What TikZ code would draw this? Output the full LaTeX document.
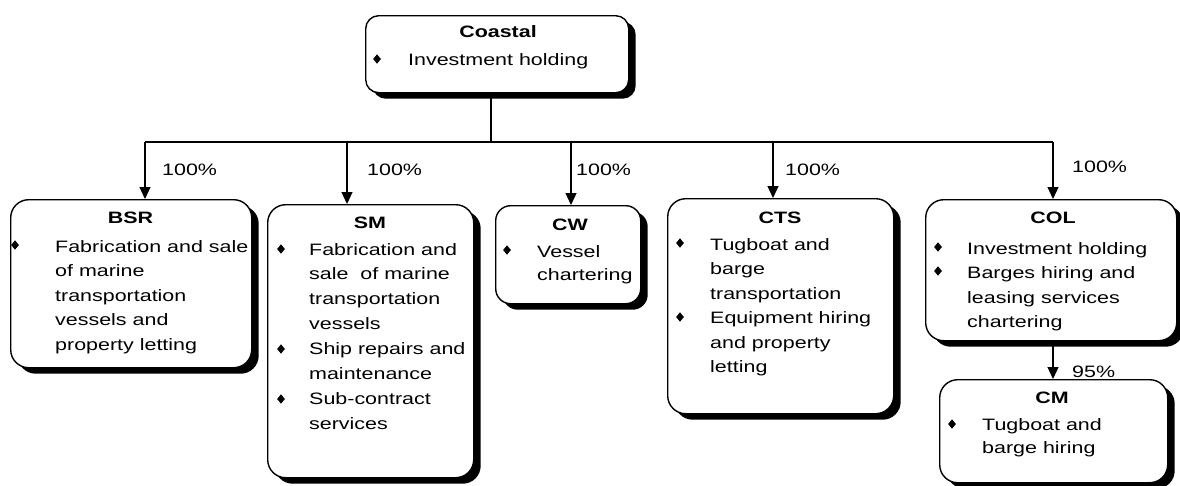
\documentclass[tikz,border=0pt]{standalone}
\usepackage{fontspec}
\setmainfont{Liberation Sans}[FakeStretch=1.3]
\usetikzlibrary{shapes.geometric,shadows,arrows.meta}
\newcommand{\mylines}[1]{\begin{tabular}[t]{@{}l@{}}#1\end{tabular}}
\tikzset{
  box/.style={draw, line width=1.4pt, fill=white, rounded corners=18pt, inner sep=0pt,
    anchor=north west,
    drop shadow={shadow xshift=7pt, shadow yshift=-6pt, fill=black, opacity=1}},
  ttl/.style={anchor=base, inner sep=0pt, font=\fontsize{16.5}{24.5}\selectfont\bfseries},
  txt/.style={anchor=base west, inner sep=0pt},
  bul/.style={diamond, fill=black, inner sep=0pt, minimum width=8pt, minimum height=9.5pt},
  pct/.style={anchor=base west, inner sep=0pt},
  conn/.style={line width=1.2pt},
  arr/.style={line width=1.2pt, -{Triangle[width=11pt,length=12pt]}}
}
\begin{document}
\begin{tikzpicture}[x=1pt, y=-1pt, font=\fontsize{16.5}{24.5}\selectfont]
\useasboundingbox (0,0) rectangle (1180,485);
% boxes
\node[box, rounded corners=13pt, minimum width=263pt, minimum height=77pt] (coastal) at (365,15) {};
\node[box, minimum width=241pt, minimum height=168pt] (bsr) at (10,199) {};
\node[box, minimum width=206pt, minimum height=273pt] (sm) at (267,204) {};
\node[box, rounded corners=15pt, minimum width=145pt, minimum height=98pt] (cw) at (495,205) {};
\node[box, minimum width=226pt, minimum height=215pt] (cts) at (667,198) {};
\node[box, minimum width=251pt, minimum height=141pt] (col) at (925,199) {};
\node[box, minimum width=228pt, minimum height=103pt] (cm) at (939,379) {};
% Coastal
\node[ttl] (coastalT) at (498,37) {Coastal};
\node[bul] (coastalB1) at (377,59) {};
\node[txt] (coastalX) at (408,65) {Investment holding};
% BSR
\node[ttl] (bsrT) at (130.5,223) {BSR};
\node[bul] (bsrB1) at (15,245) {};
\node[txt] (bsrX) at (55,252) {\mylines{Fabrication and sale\\of marine\\transportation\\vessels and\\property letting}};
% SM
\node[ttl] (smT) at (370,228) {SM};
\node[bul] (smB1) at (281,249) {};
\node[bul] (smB2) at (281,349) {};
\node[bul] (smB3) at (281,399) {};
\node[txt] (smX) at (309,255) {\renewcommand{\arraystretch}{1.02}\mylines{Fabrication and\\sale\ \ of marine\\transportation\\vessels\\Ship repairs and\\maintenance\\Sub-contract\\services}};
% CW
\node[ttl] (cwT) at (570,230) {CW};
\node[bul] (cwB1) at (507,250) {};
\node[txt] (cwX) at (537,257) {\renewcommand{\arraystretch}{0.94}\mylines{Vessel\\chartering}};
% CTS
\node[ttl] (ctsT) at (780,223) {CTS};
\node[bul] (ctsB1) at (680,243) {};
\node[bul] (ctsB2) at (680,317) {};
\node[txt] (ctsX) at (710,250) {\mylines{Tugboat and\\barge\\transportation\\Equipment hiring\\and property\\letting}};
% COL
\node[ttl] (colT) at (1053,223) {COL};
\node[bul] (colB1) at (938,247) {};
\node[bul] (colB2) at (938,271) {};
\node[txt] (colX) at (967,254) {\mylines{Investment holding\\Barges hiring and\\leasing services\\chartering}};
% CM
\node[ttl] (cmT) at (1052,403) {CM};
\node[bul] (cmB1) at (952,424) {};
\node[txt] (cmX) at (982,430) {\renewcommand{\arraystretch}{0.94}\mylines{Tugboat and\\barge hiring}};
% connectors
\coordinate (j) at (491,142);
\coordinate (aBSR) at (145,142);
\coordinate (aSM) at (347,142);
\coordinate (aCW) at (571,142);
\coordinate (aCTS) at (773,142);
\coordinate (aCOL) at (1053,142);
\draw[conn] (j |- coastal.south) -- (j);
\draw[conn] (aBSR) -- (aCOL);
\draw[arr] (aBSR) -- (aBSR |- bsr.north);
\draw[arr] (aSM) -- (aSM |- sm.north);
\draw[arr] (aCW) -- (aCW |- cw.north);
\draw[arr] (aCTS) -- (aCTS |- cts.north);
\draw[arr] (aCOL) -- (aCOL |- col.north);
\draw[arr] (aCOL |- col.south) -- (aCOL |- cm.north);
% labels
\node[pct] (pBSR) at (162,175) {100\%};
\node[pct] (pSM) at (367,175) {100\%};
\node[pct] (pCW) at (576,175) {100\%};
\node[pct] (pCTS) at (785,175) {100\%};
\node[pct] (pCOL) at (1072,172) {100\%};
\node[pct] (pCM) at (1072,377) {95\%};
\end{tikzpicture}
\end{document}
